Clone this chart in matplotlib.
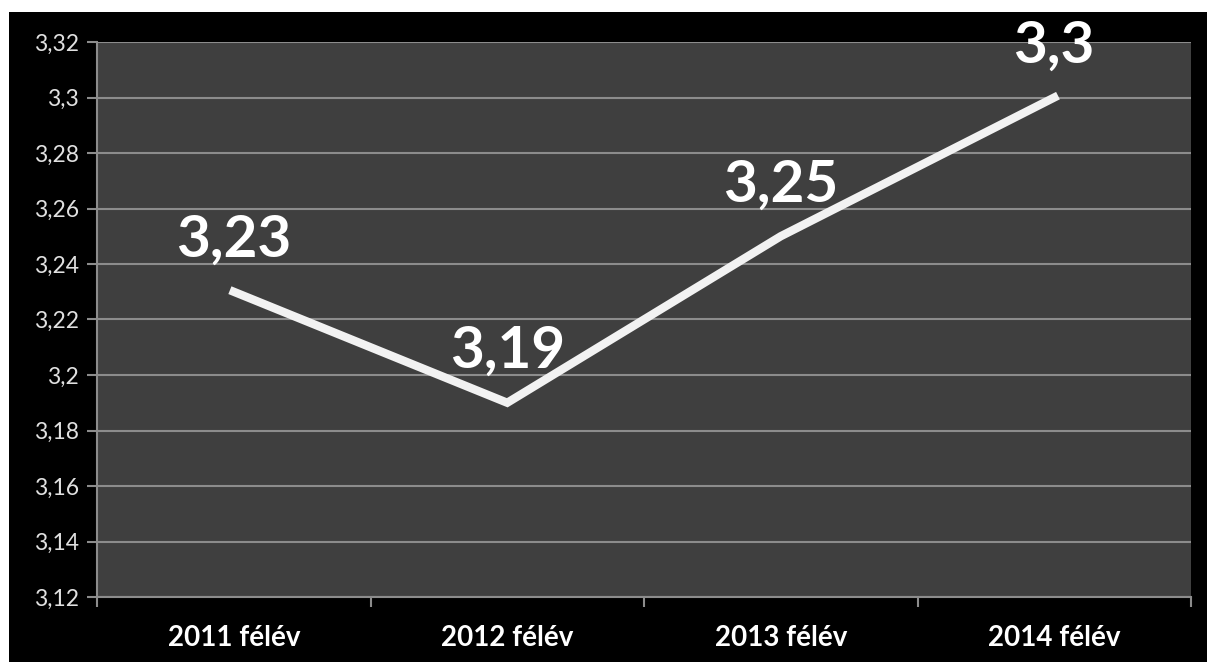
import matplotlib.pyplot as plt
from matplotlib.patches import Rectangle
from matplotlib.ticker import FixedLocator

# Data
categories = ['2011 félév', '2012 félév', '2013 félév', '2014 félév']
values = [3.23, 3.19, 3.25, 3.30]
value_labels = ['3,23', '3,19', '3,25', '3,3']
y_ticks = [3.12, 3.14, 3.16, 3.18, 3.20, 3.22, 3.24, 3.26, 3.28, 3.30, 3.32]
y_tick_labels = ['3,12', '3,14', '3,16', '3,18', '3,2', '3,22', '3,24', '3,26', '3,28', '3,3', '3,32']

plt.rcParams['font.family'] = ['Lato', 'DejaVu Sans']

fig = plt.figure(figsize=(12.07, 6.62), dpi=100, facecolor='white')
# black backdrop, slightly offset from top/left like the screenshot
fig.patches.append(Rectangle((9 / 1207, 0), 1 - 9 / 1207, (662 - 12) / 662,
                             transform=fig.transFigure, facecolor='black',
                             edgecolor='none', zorder=-10))

ax = fig.add_axes([97 / 1207, 65 / 662, (1191 - 97) / 1207, (597 - 42) / 662])
ax.set_facecolor('#3f3f3f')

x = list(range(len(categories)))
ax.plot(x, values, color='#f2f2f2', linewidth=6, solid_joinstyle='miter', zorder=3)

for xi, v, lab in zip(x, values, value_labels):
    ax.annotate(lab, (xi, v), xytext=(0, 18), textcoords='offset points',
                ha='center', va='bottom', color='white', fontsize=42,
                fontweight='bold', zorder=4)

ax.set_xlim(-0.5, len(categories) - 0.5)
ax.set_ylim(3.12, 3.32)
ax.set_yticks(y_ticks)
ax.set_yticklabels(y_tick_labels)
ax.yaxis.grid(True, color='#8c8c8c', linewidth=1.5)
ax.set_axisbelow(True)

ax.set_xticks(x)
ax.set_xticklabels(categories, fontsize=20, fontweight='bold', color='white')
ax.xaxis.set_minor_locator(FixedLocator([-0.5, 0.5, 1.5, 2.5, 3.5]))
ax.tick_params(axis='x', which='major', length=0, pad=20)
ax.tick_params(axis='x', which='minor', length=7, width=1.5, color='#8c8c8c')
ax.tick_params(axis='y', length=7, width=1.5, color='#8c8c8c',
               labelsize=16.5, labelcolor='#e0e0e0', pad=6)

for side in ['top', 'right']:
    ax.spines[side].set_visible(False)
for side in ['left', 'bottom']:
    ax.spines[side].set_color('#8c8c8c')
    ax.spines[side].set_linewidth(1.5)

plt.savefig('out.png', dpi=100, facecolor=fig.get_facecolor())
